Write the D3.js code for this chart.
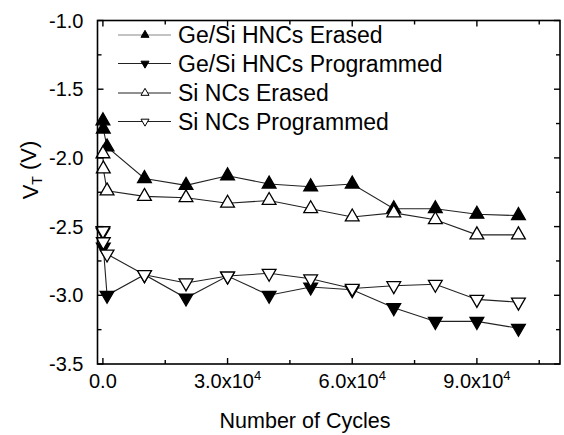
<!DOCTYPE html>
<html>
<head>
<meta charset="utf-8">
<script src="https://cdn.jsdelivr.net/npm/d3@7"></script>
<style>
  html, body { margin: 0; padding: 0; background: #fff; }
  svg { display: block; font-family: "Liberation Sans", Arial, sans-serif; }
</style>
</head>
<body>
<div id="chart"></div>
<script>
// cycle counts (the first three sit right on top of zero on a linear axis)
var cycles = [10, 100, 1000, 10000, 20000, 30000, 40000, 50000, 60000, 70000, 80000, 90000, 100000];

// threshold voltage, V
var geSiErased = [-1.73, -1.79, -1.92, -2.15, -2.20, -2.13, -2.19, -2.21, -2.19, -2.37, -2.37, -2.41, -2.42];
var geSiProgrammed = [-2.54, -2.65, -3.00, -2.85, -3.02, -2.86, -3.00, -2.94, -2.96, -3.09, -3.19, -3.19, -3.24];
var siErased = [-1.97, -2.08, -2.24, -2.28, -2.29, -2.33, -2.31, -2.37, -2.43, -2.40, -2.45, -2.56, -2.56];
var siProgrammed = [-2.53, -2.61, -2.70, -2.85, -2.91, -2.86, -2.84, -2.88, -2.95, -2.93, -2.92, -3.03, -3.05];

var seriesNames = ['Ge/Si HNCs Erased', 'Ge/Si HNCs Programmed', 'Si NCs Erased', 'Si NCs Programmed'];

var xTicks = [0, 30000, 60000, 90000];
var xTickBase = ['0.0', '3.0x10', '6.0x10', '9.0x10'];
var xTickExp = ['', '4', '4', '4'];
var yTicks = [-1.0, -1.5, -2.0, -2.5, -3.0, -3.5];
var yTickLabels = ['-1.0', '-1.5', '-2.0', '-2.5', '-3.0', '-3.5'];

(function () {
    var width = 564, height = 435;
    var left = 97.5, right = 560, top = 20.5, bottom = 364;

    var series = [
        { name: seriesNames[0], values: geSiErased, filled: true, up: true },
        { name: seriesNames[1], values: geSiProgrammed, filled: true, up: false },
        { name: seriesNames[2], values: siErased, filled: false, up: true },
        { name: seriesNames[3], values: siProgrammed, filled: false, up: false }
    ];

    var x = d3.scaleLinear().domain([-1300, 110000]).range([left, right]);
    var y = d3.scaleLinear().domain([-3.5, -1.0]).range([bottom, top]);

    var svg = d3.select('#chart').append('svg')
        .attr('width', width)
        .attr('height', height);

    // lines first, markers on top
    var line = d3.line()
        .x(function (d) { return x(d[0]); })
        .y(function (d) { return y(d[1]); });

    series.forEach(function (s) {
        var pts = cycles.map(function (c, i) { return [c, s.values[i]]; });
        svg.append('path')
            .datum(pts)
            .attr('d', line)
            .attr('fill', 'none')
            .attr('stroke', '#222')
            .attr('stroke-width', 1.1);
    });

    var tri = d3.symbol().type(d3.symbolTriangle).size(82);

    series.forEach(function (s) {
        svg.append('g')
            .selectAll('path')
            .data(cycles.map(function (c, i) { return [c, s.values[i]]; }))
            .join('path')
            .attr('d', tri)
            .attr('transform', function (d) {
                return 'translate(' + x(d[0]) + ',' + y(d[1]) + ')' + (s.up ? '' : ' rotate(180)');
            })
            .attr('fill', s.filled ? '#000' : '#fff')
            .attr('stroke', '#000')
            .attr('stroke-width', 1.3);
    });

    // frame
    svg.append('rect')
        .attr('x', left).attr('y', top)
        .attr('width', right - left).attr('height', bottom - top)
        .attr('fill', 'none')
        .attr('stroke', '#000')
        .attr('stroke-width', 1.6);

    // inward ticks on all four sides
    var yMinor = d3.range(-3.25, -1.0, 0.5);
    var xMinor = [15000, 45000, 75000, 105000];
    var tickG = svg.append('g').attr('stroke', '#000').attr('stroke-width', 1.4);

    function yTick(v, len) {
        tickG.append('line').attr('x1', left).attr('x2', left + len).attr('y1', y(v)).attr('y2', y(v));
        tickG.append('line').attr('x1', right).attr('x2', right - len).attr('y1', y(v)).attr('y2', y(v));
    }
    function xTick(v, len) {
        tickG.append('line').attr('x1', x(v)).attr('x2', x(v)).attr('y1', bottom).attr('y2', bottom - len);
        tickG.append('line').attr('x1', x(v)).attr('x2', x(v)).attr('y1', top).attr('y2', top + len);
    }
    yTicks.forEach(function (v) { yTick(v, 6); });
    yMinor.forEach(function (v) { yTick(v, 4); });
    xTicks.forEach(function (v) { xTick(v, 6); });
    xMinor.forEach(function (v) { xTick(v, 4); });

    // tick labels
    svg.append('g')
        .selectAll('text')
        .data(yTicks)
        .join('text')
        .attr('x', left - 14)
        .attr('y', function (d) { return y(d); })
        .attr('dy', '0.35em')
        .attr('text-anchor', 'end')
        .style('font-size', '20px')
        .text(function (d, i) { return yTickLabels[i]; });

    svg.append('g')
        .selectAll('text')
        .data(xTicks)
        .join('text')
        .attr('x', function (d) { return x(d); })
        .attr('y', bottom + 24)
        .attr('text-anchor', 'middle')
        .style('font-size', '20px')
        .each(function (d, i) {
            var el = d3.select(this);
            el.append('tspan').text(xTickBase[i]);
            if (xTickExp[i]) {
                el.append('tspan')
                    .attr('dy', '-0.6em')
                    .style('font-size', '13px')
                    .text(xTickExp[i]);
            }
        });

    // axis titles
    svg.append('text')
        .attr('x', 305)
        .attr('y', 428)
        .attr('text-anchor', 'middle')
        .style('font-size', '21.5px')
        .text('Number of Cycles');

    var yTitle = svg.append('text')
        .attr('transform', 'translate(38,170) rotate(-90)')
        .attr('text-anchor', 'middle')
        .style('font-size', '22px');
    yTitle.append('tspan').text('V');
    yTitle.append('tspan').attr('dy', '0.3em').style('font-size', '14px').text('T');
    yTitle.append('tspan').attr('dy', '-0.3em').text('  (V)');

    // legend
    var legendY = [35, 63.5, 93, 121.5];
    var smallTri = d3.symbol().type(d3.symbolTriangle).size(28);
    var legend = svg.append('g');
    series.forEach(function (s, i) {
        var g = legend.append('g').attr('transform', 'translate(0,' + legendY[i] + ')');
        g.append('line')
            .attr('x1', 118).attr('x2', 171)
            .attr('y1', 0).attr('y2', 0)
            .attr('stroke', i === 0 ? '#888' : '#222')
            .attr('stroke-width', 1.2);
        g.append('path')
            .attr('d', smallTri)
            .attr('transform', 'translate(145,0)' + (s.up ? '' : ' rotate(180)'))
            .attr('fill', s.filled ? '#000' : '#fff')
            .attr('stroke', '#000')
            .attr('stroke-width', 1);
        g.append('text')
            .attr('x', 178)
            .attr('y', 0)
            .attr('dy', '0.35em')
            .style('font-size', '23px')
            .text(s.name);
    });
})();
</script>
</body>
</html>
